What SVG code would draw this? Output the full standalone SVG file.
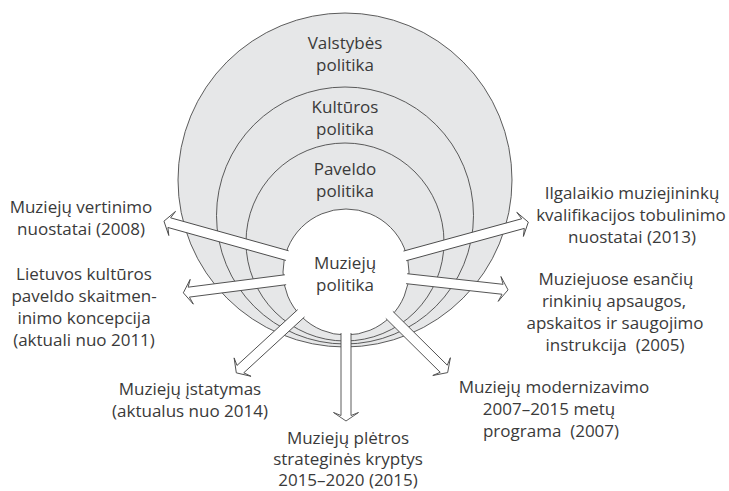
<svg xmlns="http://www.w3.org/2000/svg" width="729" height="491" viewBox="0 0 729 491">
<defs>
<style>
.ring{fill:#e6e7e8;stroke:#4a4a4a;stroke-width:0.9}
.core{fill:#ffffff;stroke:#4a4a4a;stroke-width:0.9}
.arr{fill:#ffffff;stroke:#4a4a4a;stroke-width:0.9;stroke-linejoin:miter}
text{font-family:"Open Sans","Noto Sans","DejaVu Sans",sans-serif;font-size:17px;fill:#3a3a3a;text-anchor:middle}
</style>
</defs>
<rect width="729" height="491" fill="#ffffff"/>
<g id="valstybes">
<circle class="ring" cx="345" cy="180" r="167"/>
<text x="345" y="49">Valstybės</text>
<text x="345" y="71">politika</text>
</g>
<g id="kulturos">
<circle class="ring" cx="345" cy="215.5" r="128.5"/>
<text x="345" y="113">Kultūros</text>
<text x="345" y="135">politika</text>
</g>
<g id="paveldo">
<circle class="ring" cx="345" cy="242" r="99"/>
<text x="345" y="175">Paveldo</text>
<text x="345" y="197">politika</text>
</g>
<g id="muzieju">
<circle class="core" cx="346" cy="272" r="63"/>
<text x="345" y="269">Muziejų</text>
<text x="345" y="291">politika</text>
</g>
<g id="connectors">
<path class="arr" transform="translate(346,272) rotate(195.6)" d="M61,-5 H183.5 L180.5,-12.5 L189,0 L180.5,12.5 L183.5,5 H61"/>
<path class="arr" transform="translate(346,272) rotate(172.7)" d="M61,-5 H158.5 L155.5,-12.5 L164,0 L155.5,12.5 L158.5,5 H61"/>
<path class="arr" transform="translate(346,272) rotate(137.4)" d="M61,-5 H143.5 L140.5,-12.5 L149,0 L140.5,12.5 L143.5,5 H61"/>
<path class="arr" transform="translate(346,272) rotate(90)" d="M61,-5 H143.5 L140.5,-12.5 L149,0 L140.5,12.5 L143.5,5 H61"/>
<path class="arr" transform="translate(346,272) rotate(44.7)" d="M61,-5 H137.5 L134.5,-12.5 L143,0 L134.5,12.5 L137.5,5 H61"/>
<path class="arr" transform="translate(346,272) rotate(6.3)" d="M61,-5 H157.5 L154.5,-12.5 L163,0 L154.5,12.5 L157.5,5 H61"/>
<path class="arr" transform="translate(346,272) rotate(-15.3)" d="M61,-5 H183.5 L180.5,-12.5 L189,0 L180.5,12.5 L183.5,5 H61"/>
</g>
<g id="vertinimo">
<text x="81" y="213">Muziejų vertinimo</text>
<text x="81" y="235">nuostatai (2008)</text>
</g>
<g id="skaitmeninimo">
<text x="84" y="280">Lietuvos kultūros</text>
<text x="84" y="302">paveldo skaitmen-</text>
<text x="84" y="324">inimo koncepcija</text>
<text x="84" y="346">(aktuali nuo 2011)</text>
</g>
<g id="istatymas">
<text x="190" y="395">Muziejų įstatymas</text>
<text x="190" y="417">(aktualus nuo 2014)</text>
</g>
<g id="pletros">
<text x="348" y="444">Muziejų plėtros</text>
<text x="348" y="465">strateginės kryptys</text>
<text x="348" y="486">2015–2020 (2015)</text>
</g>
<g id="modernizavimo">
<text x="554" y="393">Muziejų modernizavimo</text>
<text x="549" y="415">2007–2015 metų</text>
<text x="551" y="437" xml:space="preserve">programa  (2007)</text>
</g>
<g id="rinkiniu">
<text x="616" y="285">Muziejuose esančių</text>
<text x="614" y="307">rinkinių apsaugos,</text>
<text x="615" y="329">apskaitos ir saugojimo</text>
<text x="615" y="351" xml:space="preserve">instrukcija  (2005)</text>
</g>
<g id="kvalifikacijos">
<text x="632" y="199">Ilgalaikio muziejininkų</text>
<text x="631" y="221">kvalifikacijos tobulinimo</text>
<text x="632" y="243">nuostatai (2013)</text>
</g>
</svg>
